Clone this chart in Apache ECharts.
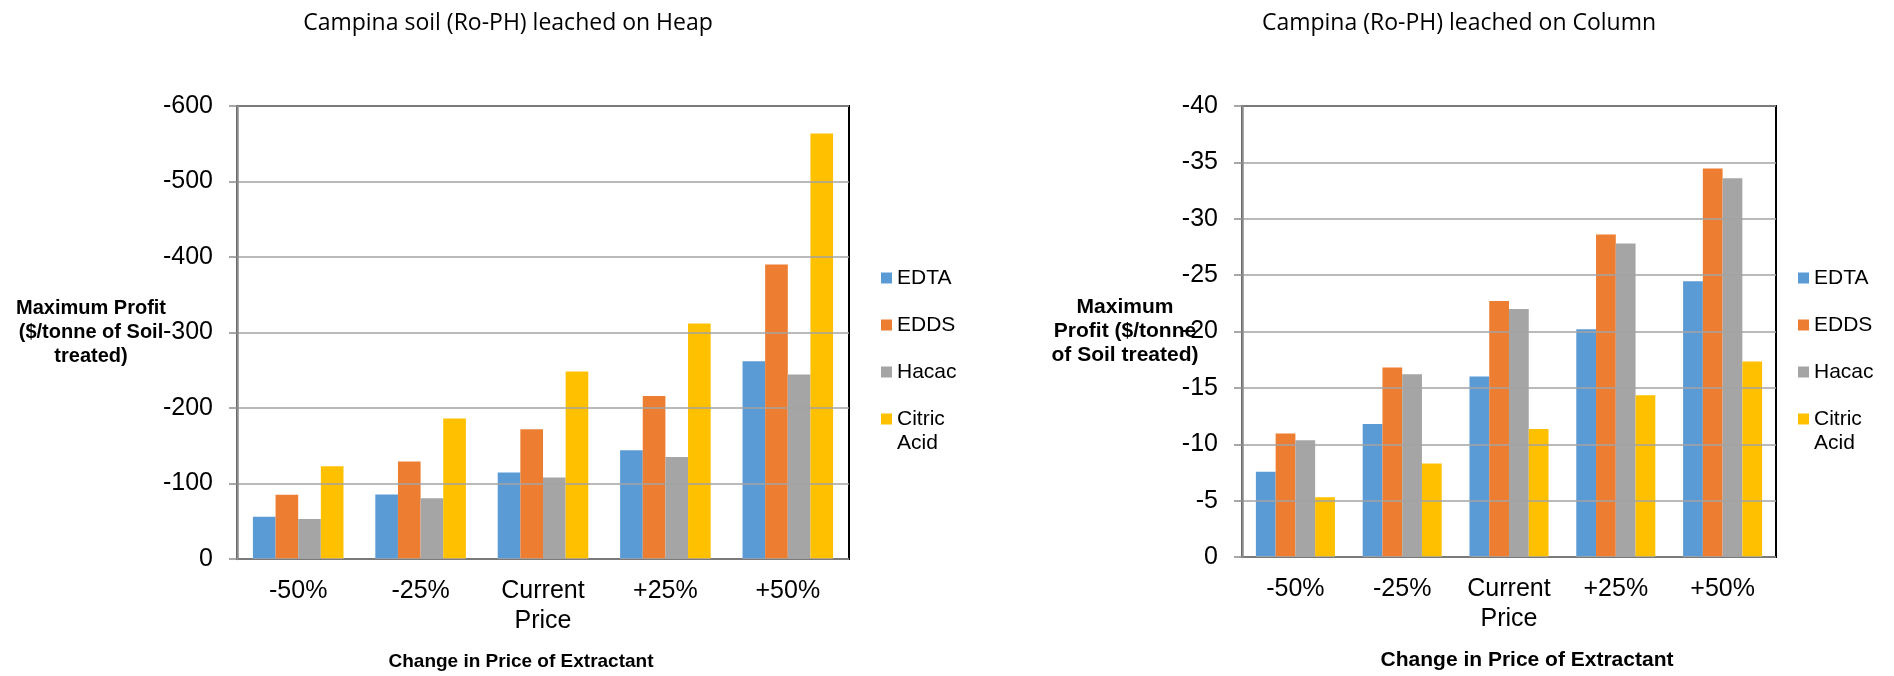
<!DOCTYPE html>
<html>
<head>
<meta charset="utf-8">
<script src="https://cdn.jsdelivr.net/npm/echarts@6/dist/echarts.min.js"></script>
<style>
  html, body { margin: 0; padding: 0; background: #fff; }
  #chart { width: 1894px; height: 676px; }
</style>
</head>
<body>
<div id="chart"></div>
<script>
// ---------- data ----------
const categories = ['-50%', '-25%', 'Current\nPrice', '+25%', '+50%'];
const seriesNames = ['EDTA', 'EDDS', 'Hacac', 'Citric Acid'];
const colors = ['#5B9BD5', '#ED7D31', '#A5A5A5', '#FFC000'];

// Campina soil (Ro-PH) leached on Heap
const heapEDTA   = [-56, -85.5, -114.5, -144, -262];
const heapEDDS   = [-85, -129, -172, -216, -390];
const heapHacac  = [-53, -80.5, -108, -135, -244.5];
const heapCitric = [-123, -186, -248.5, -312, -563.5];

// Campina (Ro-PH) leached on Column
const colEDTA   = [-7.55, -11.8, -16.0, -20.2, -24.45];
const colEDDS   = [-10.95, -16.8, -22.7, -28.6, -34.45];
const colHacac  = [-10.35, -16.2, -22.0, -27.8, -33.6];
const colCitric = [-5.3, -8.3, -11.35, -14.35, -17.35];

const heapTitle = 'Campina soil (Ro-PH) leached on Heap';
const colTitle = 'Campina (Ro-PH) leached on Column';
const xName = 'Change in Price of Extractant';
const heapYName = 'Maximum Profit\n($/tonne of Soil\ntreated)';
const colYName = 'Maximum\nProfit ($/tonne\nof Soil treated)';

// ---------- chart ----------
const FONT = '"Liberation Sans", Arial, sans-serif';

function xAxis(gridIndex, fontSize, padding) {
  return {
    type: 'category', gridIndex, data: categories,
    axisTick: { show: false },
    axisLine: { lineStyle: { color: '#000', width: 2 } },
    axisLabel: { interval: 0, fontSize: 25, lineHeight: 30, margin: 17, color: '#000', fontFamily: FONT },
    name: xName, nameLocation: 'middle', nameGap: 93, nameMoveOverlap: false,
    nameTextStyle: { fontSize, fontWeight: 'bold', color: '#000', fontFamily: FONT, padding }
  };
}
function yAxis(gridIndex, min, interval, name, nameGap, fontSize) {
  return {
    type: 'value', gridIndex, inverse: true, min, max: 0, interval, z: 3,
    axisLine: { show: true, lineStyle: { color: '#8c8c8c', width: 2.5 } },
    axisTick: { show: true, length: 8, lineStyle: { color: '#8c8c8c', width: 1.5 } },
    axisLabel: { fontSize: 25, margin: 24, color: '#000', fontFamily: FONT },
    splitLine: { lineStyle: { color: '#a3a3a3', width: 1.5 } },
    name, nameLocation: 'middle', nameGap, nameRotate: 0, nameMoveOverlap: false,
    nameTextStyle: { fontSize, fontWeight: 'bold', color: '#000', fontFamily: FONT,
                     lineHeight: 24, align: 'center', verticalAlign: 'middle' }
  };
}
function bars(idx, arrs) {
  return arrs.map((arr, i) => ({
    type: 'bar', name: seriesNames[i], xAxisIndex: idx, yAxisIndex: idx,
    data: arr, barGap: '0%', barCategoryGap: '26%',
    itemStyle: { color: colors[i] }
  }));
}
function legends(left) {
  const common = {
    orient: 'vertical', left, padding: 0, itemWidth: 11, itemHeight: 11,
    icon: 'rect', selectedMode: false,
    textStyle: { fontSize: 21, lineHeight: 24, color: '#000', fontFamily: FONT }
  };
  return [
    Object.assign({}, common, { top: 266, itemGap: 23, data: seriesNames.slice(0, 3) }),
    Object.assign({}, common, { top: 383, data: [seriesNames[3]],
      formatter: function () { return '\nCitric\nAcid'; } })
  ];
}

const chart = echarts.init(document.getElementById('chart'), null, { renderer: 'canvas' });
chart.setOption({
  animation: false,
  color: colors,
  textStyle: { fontFamily: FONT },
  graphic: [
    { type: 'text', x: 508, y: 23,
      style: { text: heapTitle, font: '23px "Open Sans"', fill: '#000', align: 'center', verticalAlign: 'middle' } },
    { type: 'text', x: 1459, y: 23,
      style: { text: colTitle, font: '23px "Open Sans"', fill: '#000', align: 'center', verticalAlign: 'middle' } }
  ],
  grid: [
    { left: 237, top: 106, width: 612, height: 453, show: true, borderColor: '#000', borderWidth: 2, containLabel: false },
    { left: 1242, top: 106, width: 534, height: 453, show: true, borderColor: '#000', borderWidth: 2, containLabel: false }
  ],
  xAxis: [xAxis(0, 19, [0, 44, 0, 0]), xAxis(1, 21, [0, 0, 0, 36])],
  yAxis: [yAxis(0, -600, 100, heapYName, 146, 20), yAxis(1, -40, 5, colYName, 117, 21)],
  legend: legends(881).concat(legends(1798)),
  series: bars(0, [heapEDTA, heapEDDS, heapHacac, heapCitric])
    .concat(bars(1, [colEDTA, colEDDS, colHacac, colCitric]))
});
</script>
</body>
</html>
